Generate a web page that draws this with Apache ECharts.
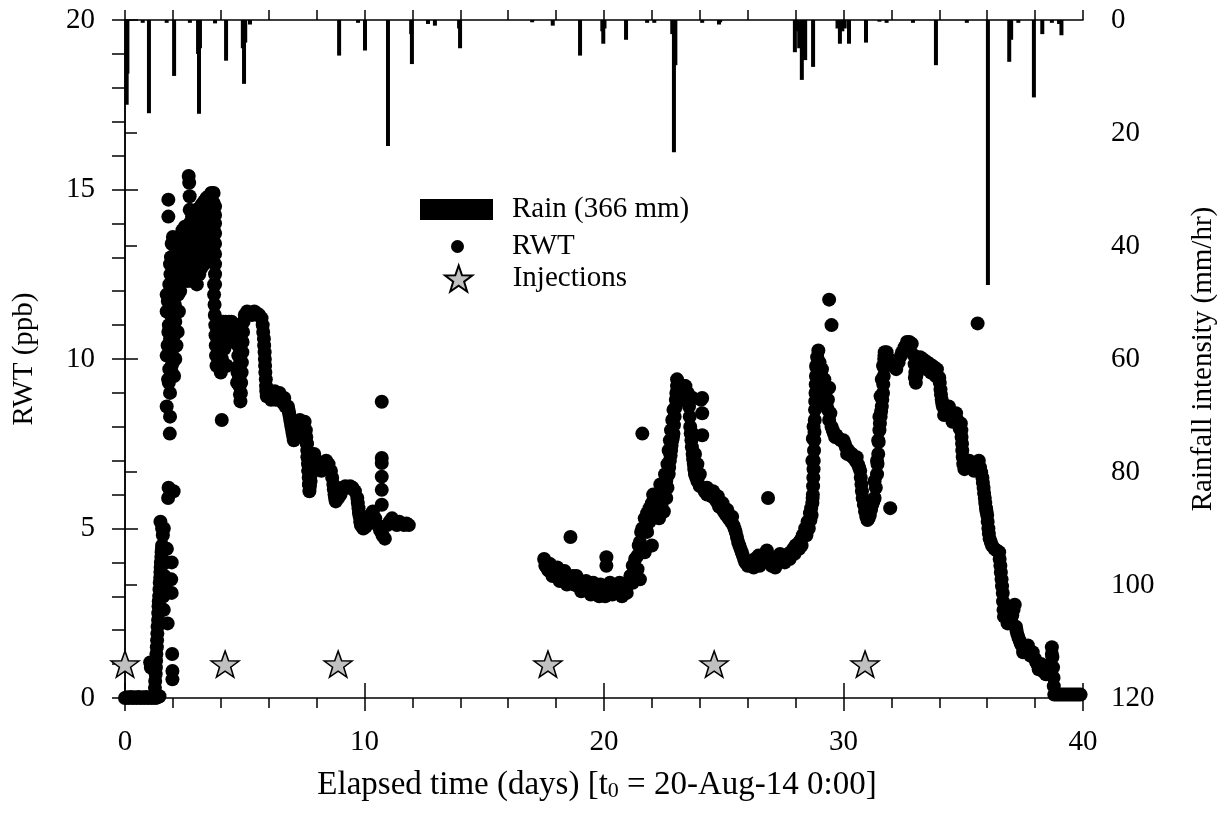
<!DOCTYPE html>
<html>
<head>
<meta charset="utf-8">
<script src="https://cdn.jsdelivr.net/npm/echarts@6/dist/echarts.min.js"></script>
<style>
  html, body { margin: 0; padding: 0; background: #ffffff; }
  #chart { width: 1229px; height: 831px; }
</style>
</head>
<body>
<div id="chart"></div>
<script>
// Hourly rainfall intensity (mm/hr) against elapsed days
const rainDays = [0.07, 0.10, 0.74, 1.00, 1.74, 2.05, 2.71, 3.05, 3.09, 3.13, 3.76, 4.22, 4.92, 4.97, 5.02, 5.22,
  8.94, 9.73, 10.02, 10.98, 11.95, 11.98, 12.65, 12.94, 13.95, 13.99,
  17.00, 17.86, 19.00, 19.93, 19.97, 20.02, 20.92, 21.80, 22.10, 22.85, 22.92, 22.98, 24.10, 24.80, 24.85,
  27.97, 28.05, 28.15, 28.26, 28.33, 28.40, 28.73, 29.75, 29.85, 29.95, 30.05, 30.23, 30.94, 31.50, 31.80,
  32.90, 33.86, 35.15, 36.03, 36.92, 37.00, 37.30, 37.95, 38.30, 38.70, 39.00, 39.10];
const rainRate = [15.0, 9.5, 0.5, 16.5, 0.5, 9.9, 0.5, 6.0, 16.6, 5.0, 0.6, 7.2, 5.0, 11.3, 4.0, 0.8,
  6.3, 0.5, 5.4, 22.3, 2.5, 7.8, 0.7, 1.0, 1.5, 5.0,
  0.4, 1.0, 6.3, 2.0, 4.2, 1.5, 3.5, 0.5, 0.5, 2.5, 23.4, 8.0, 0.5, 0.8, 0.4,
  5.7, 2.0, 5.0, 10.6, 7.0, 7.1, 8.3, 1.5, 4.2, 2.0, 1.5, 4.2, 4.0, 0.3, 0.5,
  0.5, 8.0, 0.5, 46.9, 7.4, 3.5, 0.5, 13.7, 2.5, 0.5, 0.7, 2.7];

// RWT concentration (ppb), first monitoring period [day, ppb]
const rwtFirstPeriod = [
  [0.00,0.00],[0.08,0.02],[0.16,0.00],[0.24,0.03],[0.32,0.00],[0.40,0.02],[0.48,0.00],[0.56,0.03],
  [0.64,0.00],[0.72,0.02],[0.80,0.00],[0.88,0.03],[0.96,0.00],[1.04,0.02],[1.05,1.05],[1.08,0.90],
  [1.12,0.00],[1.20,0.05],[1.28,0.00],[1.36,0.02],[1.44,0.05],
  [1.25,0.30],[1.26,0.50],[1.28,0.70],[1.29,0.90],[1.30,1.10],[1.31,1.30],[1.33,1.50],[1.34,1.70],
  [1.35,1.90],[1.36,2.10],[1.38,2.30],[1.39,2.50],[1.40,2.70],[1.41,2.85],[1.43,3.00],[1.44,3.20],
  [1.45,3.40],[1.47,3.55],[1.48,3.70],[1.49,3.85],[1.50,4.00],[1.52,4.15],[1.53,4.30],[1.54,4.40],
  [1.55,4.50],[1.58,4.80],[1.62,5.00],[1.55,5.00],[1.48,5.20],[1.60,3.00],[1.62,2.60],[1.65,3.60],
  [1.70,4.00],[1.72,3.20],[1.75,4.40],[1.78,2.20],[1.80,5.90],[1.82,6.20],[1.97,1.30],[1.98,0.80],
  [1.98,0.55],[1.95,3.10],[1.93,3.50],[1.95,4.00],[2.03,6.10],
  [1.87,7.80],[1.88,8.30],[1.74,8.60],[1.88,9.00],[1.95,9.60],[1.74,10.10],[1.81,10.80],[1.74,11.40],
  [1.74,11.90],[1.88,12.80],[1.81,14.20],[1.81,14.70],
  [1.95,9.80],[2.00,10.30],[2.05,10.70],[2.10,11.10],[2.00,11.60],[2.15,11.90],[2.20,12.30],[1.95,10.60],
  [2.05,9.50],[2.10,10.00],[2.20,10.80],[2.25,11.40],[2.30,12.00],
  [1.80,9.40],[1.85,9.70],[1.78,10.40],[1.83,11.00],[1.79,11.70],[1.85,12.20],[1.90,12.50],[1.92,13.00],
  [1.95,13.40],[2.00,12.90],[2.05,12.40],[2.10,12.70],[2.00,13.60],[2.10,13.30],[2.15,13.00],[1.90,10.30],
  [1.92,11.30],[1.97,11.90],[2.02,11.20],[2.08,11.60],[2.12,12.10],[1.83,9.30],[1.88,10.60],[2.00,9.90],
  [2.15,10.40],[2.22,11.90],
  [2.2,12.3],[2.2,12.7],[2.2,13.1],[2.2,13.5],
  [2.3,12.4],[2.3,12.8],[2.3,13.2],[2.3,13.6],
  [2.4,12.3],[2.4,12.7],[2.4,13.1],[2.4,13.5],[2.4,13.8],
  [2.5,12.4],[2.5,12.8],[2.5,13.2],[2.5,13.6],[2.5,13.9],
  [2.6,12.3],[2.6,12.7],[2.6,13.1],[2.6,13.5],[2.6,13.9],
  [2.7,12.4],[2.7,12.8],[2.7,13.2],[2.7,13.6],[2.7,14.0],[2.7,14.4],[2.7,14.8],[2.68,15.2],[2.66,15.4],
  [2.8,12.3],[2.8,12.7],[2.8,13.1],[2.8,13.5],[2.8,13.9],[2.8,14.2],
  [2.9,12.4],[2.9,12.8],[2.9,13.2],[2.9,13.6],[2.9,14.0],[2.9,14.3],
  [3.0,12.2],[3.0,12.6],[3.0,13.0],[3.0,13.4],[3.0,13.8],[3.0,14.2],[3.0,14.4],
  [3.1,12.5],[3.1,12.9],[3.1,13.3],[3.1,13.7],[3.1,14.1],[3.1,14.45],
  [3.2,12.7],[3.2,13.1],[3.2,13.5],[3.2,13.9],[3.2,14.3],[3.2,14.55],
  [3.3,12.8],[3.3,13.2],[3.3,13.6],[3.3,14.0],[3.3,14.4],[3.3,14.65],
  [3.4,13.0],[3.4,13.4],[3.4,13.8],[3.4,14.2],[3.4,14.6],[3.4,14.75],
  [3.5,13.2],[3.5,13.6],[3.5,14.0],[3.5,14.4],[3.5,14.8],
  [3.6,13.5],[3.6,13.9],[3.6,14.3],[3.6,14.6],[3.6,14.9],
  [3.7,13.8],[3.7,14.2],[3.7,14.6],[3.7,14.9],
  [3.76,12.2],[3.76,12.5],[3.76,12.8],[3.76,13.1],[3.76,13.4],[3.76,13.7],[3.76,14.0],[3.76,14.25],[3.76,14.5],
  [3.72,12.2],[3.72,11.9],[3.74,11.6],[3.75,11.3],[3.77,11.0],[3.78,10.7],[3.79,10.4],[3.80,10.1],[3.82,9.8],
  [3.85,10.9],[3.88,10.5],[3.90,10.2],[3.95,9.9],[4.00,9.6],[3.95,10.7],[4.00,10.3],[4.05,10.0],[4.05,10.9],
  [4.10,10.6],[4.10,11.1],[4.15,10.3],[4.20,10.8],[4.20,11.1],[4.25,9.8],[4.25,10.5],[4.04,8.2],
  [4.30,10.9],[4.35,11.1],[4.40,10.95],[4.45,11.1],[4.50,10.8],[4.55,10.5],[4.60,10.8],[4.65,11.0],[4.70,10.7],
  [4.72,10.4],[4.73,10.1],[4.75,9.8],[4.76,9.5],[4.78,9.2],[4.80,8.95],[4.82,8.75],[4.84,9.0],[4.85,9.3],
  [4.87,9.6],[4.88,9.9],[4.90,10.2],[4.91,10.5],[4.93,10.8],[4.95,11.1],[4.70,9.6],[4.68,9.3],
  [5.0,11.3],[5.1,11.4],[5.2,11.35],[5.3,11.3],[5.4,11.4],[5.5,11.35],[5.6,11.3],[5.7,11.2],[5.75,11.0],
  [5.77,10.8],[5.80,10.6],[5.81,10.4],[5.83,10.2],[5.84,10.0],[5.85,9.8],[5.86,9.6],[5.88,9.4],[5.89,9.2],
  [5.90,9.05],[5.92,8.9],
  [6.0,8.9],[6.1,8.8],[6.2,8.9],[6.3,8.8],[6.4,8.9],[6.5,8.8],[6.6,8.7],[6.7,8.6],[6.8,8.6],
  [6.05,9.05],[6.25,9.05],[6.45,9.0],[6.65,8.85],
  [6.83,8.5],[6.85,8.4],[6.88,8.3],[6.90,8.2],[6.93,8.1],[6.95,8.0],[6.98,7.9],[7.00,7.8],[7.03,7.7],
  [7.05,7.6],[7.10,7.8],[7.15,8.0],[7.20,8.1],[7.30,8.2],[7.40,8.1],[7.50,8.15],[7.55,7.9],
  [7.57,7.7],[7.59,7.5],[7.60,7.5],[7.61,7.3],[7.62,7.1],[7.63,7.1],[7.64,6.9],[7.65,6.7],[7.66,6.7],
  [7.67,6.5],[7.68,6.3],[7.69,6.3],[7.70,6.1],
  [7.72,6.25],[7.75,6.4],[7.77,6.6],[7.80,6.8],[7.82,6.95],[7.85,7.1],[7.90,7.2],[8.00,7.0],[8.10,6.9],
  [8.20,6.7],[8.30,6.8],[8.40,7.0],[8.50,6.9],[8.60,6.7],[8.65,6.5],[8.70,6.3],[8.72,6.15],[8.75,6.0],
  [8.77,5.9],[8.80,5.8],[8.90,5.9],[9.00,6.0],[9.10,6.2],[9.20,6.25],[9.30,6.2],[9.40,6.25],[9.50,6.2],
  [9.60,6.1],[9.70,5.9],[9.72,5.75],[9.75,5.6],[9.77,5.45],[9.80,5.35],[9.82,5.2],[9.85,5.1],[9.90,5.05],
  [9.95,5.0],[10.05,5.05],[10.15,5.2],[10.25,5.4],[10.35,5.5],[10.45,5.3],[10.55,5.1],[10.65,4.95],
  [10.75,4.8],[10.85,4.7],[10.95,5.1],[11.05,5.2],[11.15,5.3],[11.25,5.15],[11.35,5.1],[11.45,5.2],
  [11.55,5.15],[11.65,5.1],[11.75,5.15],[11.85,5.1],
  [10.72,8.74],[10.72,7.08],[10.72,6.93],[10.72,6.53],[10.72,6.14],[10.72,5.7]
];

// RWT concentration (ppb), second monitoring period [day, ppb]
const rwtSecondPeriod = [
  [17.50,4.10],[17.55,3.90],[17.60,4.00],[17.65,3.80],[17.70,3.75],[17.80,3.80],[17.90,3.70],[18.00,3.65],
  [18.10,3.60],[18.20,3.70],[18.30,3.55],[18.40,3.50],[18.50,3.60],[18.60,4.75],[18.60,3.50],[18.70,3.60],
  [18.80,3.40],[18.90,3.30],[19.00,3.45],[19.10,3.30],[19.20,3.20],[19.30,3.35],[19.40,3.20],[19.50,3.25],
  [19.60,3.10],[19.70,3.20],[19.80,3.00],[19.90,3.10],[20.00,3.20],[20.10,4.15],[20.10,3.90],[20.15,3.30],
  [20.30,3.20],[20.40,3.25],[20.50,3.30],[20.60,3.20],[20.70,3.15],[20.80,3.20],[20.90,3.30],[21.00,3.40],
  [17.75,3.95],[17.85,3.60],[18.05,3.85],[18.15,3.45],[18.35,3.75],[18.45,3.35],[18.75,3.35],[18.85,3.60],
  [19.05,3.15],[19.25,3.45],[19.45,3.05],[19.55,3.40],[19.75,3.05],[19.85,3.35],[20.05,3.00],[20.25,3.40],
  [20.35,3.05],[20.55,3.10],[20.65,3.40],[20.75,3.00],[20.85,3.35],[20.95,3.10],
  [20.95,3.30],[21.10,3.60],[21.20,3.90],[21.30,4.10],[21.40,4.20],[21.50,4.60],[21.60,5.00],[21.70,5.30],
  [21.80,5.45],[21.90,5.60],[22.00,5.75],[22.10,5.80],[22.20,5.90],[22.30,6.00],[22.40,6.05],[22.50,6.20],
  [22.60,6.40],[22.70,6.60],[22.72,6.80],[22.75,7.00],[22.78,7.15],[22.80,7.30],[22.82,7.45],[22.85,7.60],
  [22.88,7.70],[22.90,7.80],[22.92,8.05],[22.95,8.30],[22.97,8.55],[23.00,8.80],[23.02,9.00],[23.05,9.20],
  [23.05,9.40],[21.50,3.50],[21.70,4.30],[22.00,4.50],[22.30,5.30],[22.50,5.50],[21.60,7.80],
  [21.30,3.60],[21.40,3.80],[21.60,4.30],[21.80,4.90],[21.90,5.20],[22.10,5.40],[22.20,5.60],[22.40,5.70],
  [22.60,5.90],[22.65,6.20],[21.20,3.40],[21.45,4.50],[21.55,4.90],[21.75,5.00],[22.05,6.00],[22.35,6.30],
  [22.55,6.60],[22.65,6.90],[22.70,7.30],[22.75,7.60],[22.80,7.90],[22.85,8.20],[22.90,8.50],
  [23.10,9.30],[23.20,9.10],[23.30,9.00],[23.40,9.20],[23.50,9.00],[23.60,8.80],[23.70,8.85],
  [23.15,9.00],[23.25,8.80],[23.35,9.20],[23.45,8.80],
  [24.05,8.80],[24.10,8.85],[24.10,8.40],[24.10,7.75],
  [23.55,8.60],[23.58,8.30],[23.60,8.00],[23.62,7.80],[23.65,7.60],[23.67,7.40],[23.70,7.20],[23.72,7.05],
  [23.75,6.90],[23.77,6.75],[23.80,6.60],[23.85,6.50],[23.90,6.40],[24.00,6.25],
  [23.70,7.80],[23.80,7.20],[23.90,6.90],[24.00,6.60],
  [24.20,6.10],[24.30,6.00],[24.40,6.05],[24.50,5.95],[24.60,5.90],[24.70,5.80],[24.80,5.65],[24.90,5.60],
  [25.00,5.50],[25.10,5.40],[25.20,5.30],[25.30,5.20],[25.40,5.10],[25.50,4.90],[25.60,4.60],[25.70,4.40],
  [25.80,4.20],[25.90,4.00],[26.00,3.90],[26.10,3.95],[26.20,4.00],[26.30,4.10],[26.40,4.05],[26.50,3.90],
  [24.30,6.20],[24.55,6.10],[24.75,5.95],[24.95,5.75],[25.15,5.55],[25.35,5.35],[25.45,5.00],[25.55,4.75],
  [25.65,4.50],[25.75,4.30],[25.85,4.10],
  [26.60,4.00],[26.70,4.20],[26.80,4.35],[26.85,5.90],[26.90,4.00],[27.00,3.90],[27.10,4.00],[27.20,4.10],
  [27.30,4.05],[27.40,4.15],[27.50,4.20],[27.60,4.15],[27.70,4.25],[27.80,4.30],[27.90,4.40],[28.00,4.50],
  [28.10,4.55],[28.20,4.65],[28.30,4.80],[28.40,5.00],[28.50,5.20],[28.60,5.45],[28.65,5.60],[28.70,5.75],
  [26.25,3.85],[26.45,4.20],[26.95,4.15],[27.15,3.85],[27.35,4.25],[27.55,4.00],[27.75,4.10],[27.95,4.25],
  [28.15,4.40],[28.25,4.50],[28.45,4.80],[28.55,5.00],[28.62,5.25],[28.67,5.40],
  [28.71,5.90],[28.72,6.00],[28.73,6.25],[28.74,6.50],[28.75,6.75],[28.76,7.00],[28.77,7.30],[28.78,7.60],
  [28.79,7.85],[28.80,8.20],[28.81,8.50],[28.82,8.75],[28.83,9.00],[28.84,9.25],[28.85,9.50],[28.87,9.75],
  [28.90,10.05],[28.95,10.25],[28.70,7.00],[28.72,7.65],[28.75,8.00],[28.86,9.80],
  [29.00,9.90],[29.02,9.75],[29.05,9.60],[29.07,9.45],[29.10,9.30],[29.12,9.15],[29.15,9.00],[29.17,8.90],
  [29.20,8.80],[29.25,8.70],[29.30,8.60],[29.35,8.50],[29.40,9.15],[29.40,8.20],
  [29.10,9.70],[29.20,9.40],[29.30,9.10],[29.35,8.80],[29.45,8.40],
  [29.50,8.00],[29.60,7.80],[29.65,7.70],[29.80,7.65],[30.00,7.60],[30.10,7.40],[30.15,7.20],[30.30,7.15],
  [30.40,7.10],[30.55,7.10],[30.60,6.90],[30.70,6.70],
  [29.55,7.90],[29.70,7.75],[29.90,7.60],[30.05,7.50],[30.20,7.30],[30.35,7.20],[30.50,7.00],[30.65,6.80],
  [30.72,6.50],[30.75,6.30],[30.77,6.10],[30.80,5.90],[30.85,5.70],[30.90,5.50],[30.95,5.35],[31.00,5.25],
  [31.05,5.30],[31.10,5.40],[31.15,5.55],[31.20,5.70],[31.25,5.80],[31.30,5.90],[31.35,6.20],[31.40,6.60],
  [31.42,6.90],[31.45,7.20],[31.47,7.55],[31.50,7.90],[31.52,8.10],[31.55,8.30],[31.57,8.45],[31.60,8.60],
  [31.62,8.80],[31.65,9.00],[31.66,9.25],[31.68,9.50],[31.69,9.75],[31.70,10.00],[31.71,10.10],[31.72,10.20],
  [31.30,6.40],[31.40,7.00],[31.45,7.60],[31.50,8.30],[31.55,8.90],[31.60,9.40],[31.65,9.80],
  [31.80,10.20],[31.90,10.00],[32.00,9.90],[32.10,9.80],[32.20,9.70],[32.30,9.90],[32.40,10.10],[32.45,10.20],
  [32.55,10.35],[32.65,10.50],[32.75,10.50],[32.85,10.45],[32.95,10.10],[32.97,9.85],[32.98,9.45],
  [33.00,9.60],[33.02,9.30],[33.04,9.50],[33.07,9.65],[33.10,9.80],[33.20,10.05],[33.30,10.00],[33.40,9.95],
  [33.50,9.90],[33.60,9.85],[33.70,9.80],[33.80,9.75],[33.90,9.70],[34.00,9.45],[34.02,9.30],[34.05,9.10],
  [34.07,8.95],[34.10,8.80],[34.12,8.70],[34.15,8.60],
  [34.30,8.50],[34.45,8.40],[34.60,8.30],[34.75,8.20],[34.90,8.10],[34.92,7.90],[34.93,7.70],[34.95,7.50],
  [34.96,7.30],[34.98,7.10],[35.00,6.90],
  [33.45,9.70],[33.65,9.60],[33.85,9.50],[34.20,8.35],[34.40,8.60],[34.55,8.15],[34.70,8.40],[34.85,7.95],
  [35.05,6.75],[35.25,7.00],[35.45,6.70],[35.65,7.00],
  [35.10,6.90],[35.20,6.85],[35.30,6.90],[35.40,6.85],[35.50,6.80],[35.60,6.85],[35.70,6.80],[35.75,6.65],
  [35.80,6.50],[35.82,6.35],[35.85,6.20],[35.87,6.05],[35.90,5.90],[35.92,5.75],[35.95,5.60],[35.97,5.50],
  [36.00,5.40],[36.02,5.20],[36.05,5.00],[36.07,4.85],[36.10,4.70],[36.15,4.60],[36.20,4.50],[36.30,4.40],
  [36.40,4.35],[36.50,4.30],[36.52,4.10],[36.55,3.90],[36.57,3.70],[36.60,3.50],[36.62,3.30],[36.65,3.10],
  [36.66,2.85],[36.68,2.60],[36.70,2.40],[36.75,2.55],[36.80,2.45],[36.85,2.20],[36.90,2.35],[37.00,2.30],
  [37.05,2.45],[37.10,2.60],[37.15,2.75],[37.20,2.10],[37.22,2.00],[37.25,1.90],[37.30,1.80],[37.35,1.70],
  [37.40,1.60],[37.45,1.55],[37.50,1.35],[37.60,1.50],[37.70,1.55],[37.75,1.40],[37.80,1.25],[37.90,1.35],
  [38.00,1.15],[38.05,1.05],[38.10,1.00],[38.15,0.85],[38.20,0.90],[38.25,1.00],[38.30,0.80],[38.40,0.85],
  [38.45,0.70],[38.50,0.80],[38.55,0.95],[38.60,0.90],[38.65,0.75],[38.70,1.50],[38.70,1.30],[38.72,1.20],
  [38.75,0.90],[38.77,0.60],[38.78,0.35],
  [38.80,0.10],[38.90,0.10],[39.00,0.10],[39.10,0.10],[39.20,0.10],[39.30,0.10],[39.40,0.10],[39.50,0.10],
  [39.60,0.10],[39.70,0.10],[39.80,0.10],[39.90,0.10],
  [29.40,11.75],[29.50,11.00],[31.95,5.60],[35.60,11.05]
];

// Tracer injection times (days) and the level they are marked at (ppb)
const injectionDays = [0.0, 4.18, 8.9, 17.66, 24.6, 30.9];
const injectionMark = 1;

const FONT = '"Liberation Serif", "Times New Roman", serif';
const STAR = 'path://M0,-10 L2.35,-3.24 L9.51,-3.09 L3.8,1.24 L5.88,8.09 L0,4 L-5.88,8.09 L-3.8,1.24 L-9.51,-3.09 L-2.35,-3.24 Z';
const INK = '#000000';
const line = { show: true, lineStyle: { color: INK, width: 1.5 } };

const chart = echarts.init(document.getElementById('chart'), null, { renderer: 'canvas' });

chart.setOption({
  animation: false,
  backgroundColor: '#ffffff',
  textStyle: { fontFamily: FONT, color: INK },
  grid: { left: 125, right: 146, top: 20, bottom: 133, containLabel: false },
  legend: [
    {
      data: ['Rain (366 mm)'], left: 420, top: 195, padding: 0,
      itemWidth: 73, itemHeight: 21, icon: 'rect',
      textStyle: { fontFamily: FONT, fontSize: 29, color: INK, padding: [0, 0, 0, 14] }
    },
    {
      data: ['RWT'], left: 451, top: 232, padding: 0,
      itemWidth: 13, itemHeight: 13, icon: 'circle',
      textStyle: { fontFamily: FONT, fontSize: 29, color: INK, padding: [0, 0, 0, 43] }
    },
    {
      data: ['Injections'], left: 444, top: 264, padding: 0,
      itemWidth: 28, itemHeight: 26, icon: STAR,
      textStyle: { fontFamily: FONT, fontSize: 29, color: INK, padding: [0, 0, 0, 35] }
    }
  ],
  xAxis: [
    {
      type: 'value', position: 'bottom', min: 0, max: 40, interval: 10,
      axisLine: line,
      axisTick: { show: true, inside: false, length: 13, lineStyle: { color: INK, width: 1.5 } },
      minorTick: { show: true, splitNumber: 5, length: 10, lineStyle: { color: INK, width: 1.5 } },
      splitLine: { show: false },
      axisLabel: { fontFamily: FONT, fontSize: 29, color: INK, margin: 30 },
      name: 'Elapsed time (days) [t{sub|0} = 20-Aug-14 0:00]',
      nameLocation: 'middle', nameGap: 71,
      nameTextStyle: {
        fontFamily: FONT, fontSize: 33, color: INK, padding: [0, 14, 0, 0],
        rich: { sub: { fontFamily: FONT, fontSize: 22, color: INK, verticalAlign: 'bottom', lineHeight: 22, padding: [14, 0, 0, 0] } }
      }
    },
    {
      type: 'value', position: 'bottom', min: 0, max: 40, interval: 10,
      axisLine: { show: false },
      axisTick: { show: true, inside: true, length: 15, lineStyle: { color: INK, width: 1.5 } },
      axisLabel: { show: false }, splitLine: { show: false }
    },
    {
      type: 'value', position: 'top', min: 0, max: 40, interval: 2,
      axisLine: line,
      axisTick: { show: true, inside: false, length: 10, lineStyle: { color: INK, width: 1.5 } },
      axisLabel: { show: false }, splitLine: { show: false }
    }
  ],
  yAxis: [
    {
      type: 'value', position: 'left', min: 0, max: 20, interval: 5,
      axisLine: line,
      axisTick: { show: true, inside: false, length: 13, lineStyle: { color: INK, width: 1.5 } },
      minorTick: { show: true, splitNumber: 5, length: 13, lineStyle: { color: INK, width: 1.5 } },
      splitLine: { show: false },
      axisLabel: { fontFamily: FONT, fontSize: 29, color: INK, margin: 30 },
      name: 'RWT (ppb)', nameLocation: 'middle', nameRotate: 90, nameGap: 86,
      nameTextStyle: { fontFamily: FONT, fontSize: 29, color: INK }
    },
    {
      type: 'value', position: 'left', min: 0, max: 20, interval: 5,
      axisLine: { show: false },
      axisTick: { show: true, inside: true, length: 13, lineStyle: { color: INK, width: 1.5 } },
      axisLabel: { show: false }, splitLine: { show: false }
    },
    {
      type: 'value', position: 'right', min: 0, max: 120, interval: 20, inverse: true,
      axisLine: line,
      axisTick: { show: true, inside: false, length: 12, lineStyle: { color: INK, width: 1.5 } },
      splitLine: { show: false },
      axisLabel: { fontFamily: FONT, fontSize: 29, color: INK, margin: 28 },
      name: 'Rainfall intensity (mm/hr)', nameLocation: 'middle', nameRotate: 90, nameGap: 106,
      nameTextStyle: { fontFamily: FONT, fontSize: 29, color: INK }
    }
  ],
  series: [
    {
      name: 'Rain (366 mm)', type: 'bar', xAxisIndex: 0, yAxisIndex: 2,
      barWidth: 4, itemStyle: { color: INK, opacity: 1 },
      data: rainDays.map((d, i) => [d, rainRate[i]]),
      z: 1
    },
    {
      name: 'RWT', type: 'scatter', xAxisIndex: 0, yAxisIndex: 0,
      symbol: 'circle', symbolSize: 14, clip: false,
      itemStyle: { color: INK, opacity: 1 },
      data: rwtFirstPeriod.concat(rwtSecondPeriod),
      z: 3
    },
    {
      name: 'Injections', type: 'scatter', xAxisIndex: 0, yAxisIndex: 0,
      symbol: STAR, symbolSize: [28, 26], clip: false,
      itemStyle: { color: '#c0c0c0', borderColor: INK, borderWidth: 1.5, opacity: 1 },
      data: injectionDays.map(d => [d, injectionMark]),
      z: 4
    }
  ]
});
</script>
</body>
</html>
